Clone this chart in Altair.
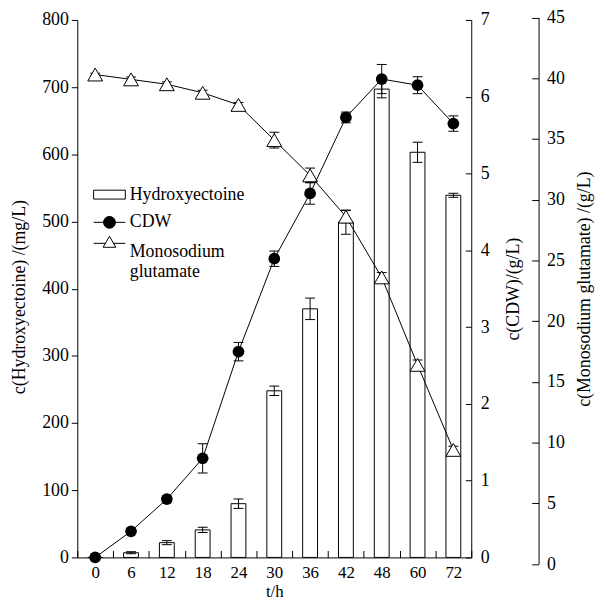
import altair as alt
import pandas as pd

# ---- data ----
hours = ["0", "6", "12", "18", "24", "30", "36", "42", "48", "60", "72"]
hydroxyectoine = [0, 7, 22, 41, 80, 248, 370, 499, 697, 603, 539]
hydroxyectoine_err = [0, 1.5, 3, 4, 7, 7, 16, 18, 13, 15, 3]
cdw = [0, 0.34, 0.76, 1.29, 2.68, 3.89, 4.74, 5.73, 6.23, 6.15, 5.65]
cdw_err = [0.02, 0.03, 0.04, 0.19, 0.12, 0.1, 0.14, 0.07, 0.19, 0.11, 0.1]
msg = [40.3, 39.9, 39.5, 38.8, 37.8, 34.9, 32.0, 28.6, 23.6, 16.4, 9.4]
msg_err = [0.1, 0.2, 0.2, 0.2, 0.2, 0.65, 0.6, 0.5, 0.4, 0.4, 0.3]
series = ["Hydroxyectoine", "CDW", "Monosodium glutamate"]

df = pd.DataFrame({
    "t": hours,
    "hyd": hydroxyectoine, "hyd_err": hydroxyectoine_err,
    "cdw": cdw, "cdw_err": cdw_err,
    "msg": msg, "msg_err": msg_err,
})
for k in ["hyd", "cdw", "msg"]:
    df[k + "_lo"] = df[k] - df[k + "_err"]
    df[k + "_hi"] = df[k] + df[k + "_err"]

leg_df = pd.DataFrame({"s": series})

FONT = "Liberation Serif"
W, H = 398, 543
FS = 18

# ---- axes ----
x_axis = alt.Axis(orient="top", offset=-H, domain=True, ticks=True, tickSize=7,
                  tickBand="extent", labelPadding=-22, labelBaseline="middle",
                  labelAlign="center", labelAngle=0, labelFontSize=17,
                  title="t/h", titleFontSize=17,
                  titleX=W / 2, titleY=34, titleBaseline="middle",
                  titleAlign="center", titleAngle=0)
x_enc = alt.X("t:N", sort=hours,
              scale=alt.Scale(type="band", domain=hours, paddingInner=0, paddingOuter=0),
              axis=x_axis)

ax_hyd = alt.Axis(orient="left", values=list(range(0, 801, 100)), tickSize=6,
                  labelPadding=3, title="c(Hydroxyectoine) /(mg/L)",
                  titleX=-58, titleY=H / 2 + 8, titleAngle=270,
                  titleBaseline="middle", titleAlign="center")
ax_cdw = alt.Axis(orient="left", offset=-W, values=list(range(0, 8)), tickSize=6,
                  labelPadding=-15, labelAlign="left", title="c(CDW)/(g/L)",
                  titleX=43, titleY=H / 2, titleAngle=270,
                  titleBaseline="middle", titleAlign="center")
ax_msg = alt.Axis(orient="left", offset=-(W + 68), values=list(range(0, 46, 5)),
                  tickSize=7, labelPadding=-15, labelAlign="left",
                  title="c(Monosodium glutamate) /(g/L)",
                  titleX=46, titleY=H / 2, titleAngle=270,
                  titleBaseline="middle", titleAlign="center")

sc_hyd = alt.Scale(domain=[0, 800], nice=False, zero=False)
sc_cdw = alt.Scale(domain=[0, 7], nice=False, zero=False)
sc_msg = alt.Scale(domain=[0, 45], nice=False, zero=False, range=[549.7, -2.5])

base = alt.Chart(df)


def tick_mark(src):
    return src.mark_tick(orient="horizontal", size=10, thickness=1, color="black", opacity=1)


# ---- Hydroxyectoine bars ----
bars = base.mark_bar(size=15, fill="white", stroke="black", strokeWidth=1).encode(
    x=x_enc, y=alt.Y("hyd:Q", scale=sc_hyd, axis=ax_hyd))
herr = base.transform_filter("datum.hyd_err > 0")
h_rule = herr.mark_rule(color="black", strokeWidth=1).encode(
    x=x_enc, y=alt.Y("hyd_lo:Q", scale=sc_hyd, axis=ax_hyd), y2="hyd_hi:Q")
h_top = tick_mark(herr).encode(x=x_enc, y=alt.Y("hyd_hi:Q", scale=sc_hyd, axis=ax_hyd))
h_bot = tick_mark(herr).encode(x=x_enc, y=alt.Y("hyd_lo:Q", scale=sc_hyd, axis=ax_hyd))
hyd_group = alt.layer(bars, h_rule, h_top, h_bot)

# ---- Monosodium glutamate ----
m_line = base.mark_line(color="black", strokeWidth=1).encode(
    x=x_enc, y=alt.Y("msg:Q", scale=sc_msg, axis=ax_msg))
m_rule = base.mark_rule(color="black", strokeWidth=1).encode(
    x=x_enc, y=alt.Y("msg_lo:Q", scale=sc_msg, axis=ax_msg), y2="msg_hi:Q")
m_top = tick_mark(base).encode(x=x_enc, y=alt.Y("msg_hi:Q", scale=sc_msg, axis=ax_msg))
m_bot = tick_mark(base).encode(x=x_enc, y=alt.Y("msg_lo:Q", scale=sc_msg, axis=ax_msg))
m_pts = base.mark_point(shape="triangle-up", size=225, filled=True, fill="white",
                        stroke="black", strokeWidth=1, opacity=1).encode(
    x=x_enc, y=alt.Y("msg:Q", scale=sc_msg, axis=ax_msg))
msg_group = alt.layer(m_line, m_rule, m_top, m_bot, m_pts)

# ---- CDW ----
c_line = base.mark_line(color="black", strokeWidth=1).encode(
    x=x_enc, y=alt.Y("cdw:Q", scale=sc_cdw, axis=ax_cdw))
c_rule = base.mark_rule(color="black", strokeWidth=1).encode(
    x=x_enc, y=alt.Y("cdw_lo:Q", scale=sc_cdw, axis=ax_cdw), y2="cdw_hi:Q")
c_top = tick_mark(base).encode(x=x_enc, y=alt.Y("cdw_hi:Q", scale=sc_cdw, axis=ax_cdw))
c_bot = tick_mark(base).encode(x=x_enc, y=alt.Y("cdw_lo:Q", scale=sc_cdw, axis=ax_cdw))
c_pts = base.mark_point(shape="circle", size=140, filled=True, color="black", opacity=1).encode(
    x=x_enc, y=alt.Y("cdw:Q", scale=sc_cdw, axis=ax_cdw))

# ---- legend (custom symbols) ----
rect_path = "M-1,-0.28L1,-0.28L1,0.28L-1,0.28Z"
cdw_path = ("M-1,0L1,0M-0.375,0A0.375,0.375,0,1,1,0.375,0"
            "A0.375,0.375,0,1,1,-0.375,0Z")
msg_path = ("M-1,-0.55L-0.257,-0.55M0.257,-0.55L1,-0.55"
            "M0,-1L0.4,-0.3L-0.4,-0.3Z")
leg = alt.Legend(orient="none", legendX=16, legendY=160, title=None,
                 symbolSize=1024, symbolStrokeColor="black", symbolStrokeWidth=1,
                 labelFont=FONT, labelFontSize=FS, labelColor="black",
                 labelOffset=4, rowPadding=2, padding=0,
                 labelExpr="datum.label == 'Monosodium glutamate' ? ['Monosodium', 'glutamate'] : datum.label")
legend_layer = alt.Chart(leg_df).mark_point(filled=True, strokeWidth=1, opacity=1).encode(
    shape=alt.Shape("s:N", scale=alt.Scale(domain=series, range=[rect_path, cdw_path, msg_path]), legend=leg),
    fill=alt.Fill("s:N", scale=alt.Scale(domain=series, range=["white", "black", "white"]), legend=leg),
    stroke=alt.Stroke("s:N", scale=alt.Scale(domain=series, range=["black", "black", "black"]), legend=leg),
).transform_filter("datum.s == 'none'")

cdw_group = alt.layer(c_line, c_rule, c_top, c_bot, c_pts, legend_layer)

chart = alt.layer(hyd_group, msg_group, cdw_group).resolve_scale(
    y="independent"
).properties(
    width=W, height=H,
    autosize=alt.AutoSizeParams(type="none"),
    padding={"left": 70, "top": 9, "right": 125, "bottom": 43},
).configure(font=FONT).configure_axis(
    labelFont=FONT, titleFont=FONT, labelFontSize=FS, titleFontSize=FS,
    labelColor="black", titleColor="black", domainColor="black", tickColor="black",
    titleFontWeight="normal", grid=False, domainWidth=1, tickWidth=1,
).configure_view(stroke="transparent")

chart.save("out.html", embed_options={"renderer": "svg", "actions": False})
